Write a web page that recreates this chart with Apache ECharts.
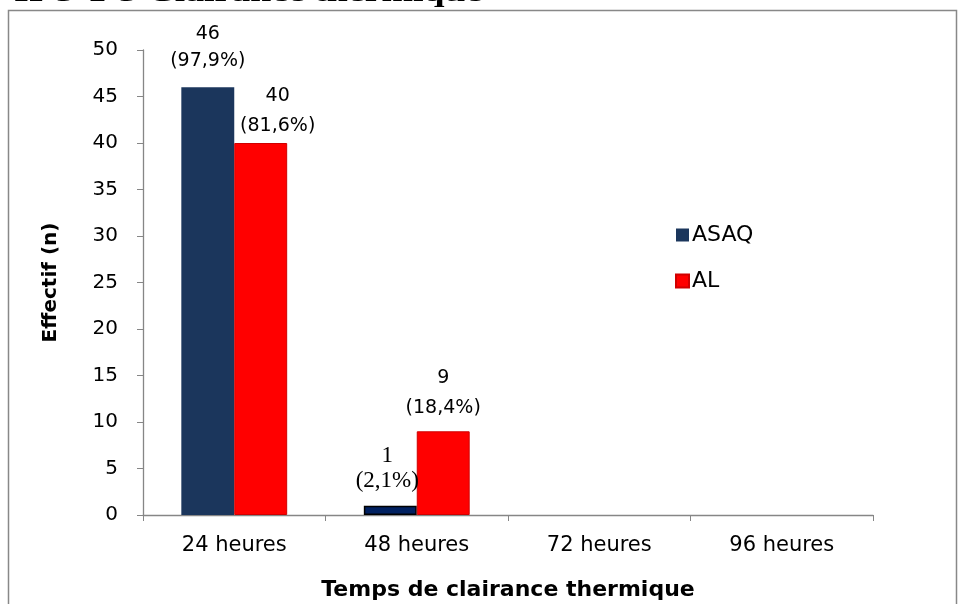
<!DOCTYPE html>
<html><head><meta charset="utf-8">
<script src="https://cdn.jsdelivr.net/npm/echarts@6/dist/echarts.min.js"></script>
<style>html,body{margin:0;padding:0;background:#fff}#c{width:958px;height:604px}</style>
</head><body><div id="c"></div>
<script>
const categories = ['24 heures', '48 heures', '72 heures', '96 heures'];
const asaqValues = [46, 1, 0, 0];
const alValues = [40, 9, 0, 0];
const asaqPct = ['97,9%', '2,1%', '', ''];
const alPct = ['81,6%', '18,4%', '', ''];
const yTicks = [0, 5, 10, 15, 20, 25, 30, 35, 40, 45, 50];

const SANS = 'DejaVu Sans';
const chart = echarts.init(document.getElementById('c'));

function lbl(v, p) { return v > 0 ? v + '\n(' + p + ')' : ''; }

const asaqData = asaqValues.map((v, i) => {
  const item = { value: v };
  if (v === 0) item.itemStyle = { borderWidth: 0, opacity: 0 };
  if (i === 0) item.label = { distance: 13, lineHeight: 27 };
  if (i === 1) {
    item.label = { distance: 12, lineHeight: 25, fontFamily: 'Liberation Serif', fontSize: 23, offset: [-3, 0] };
    item.itemStyle = { color: '#002060', borderColor: '#000', borderWidth: 1.5 };
  }
  return item;
});
const alData = alValues.map((v, i) => {
  const item = { value: v };
  if (v === 0) item.itemStyle = { borderWidth: 0, opacity: 0 };
  if (i === 0) item.label = { distance: 2, lineHeight: 30, offset: [17, 0] };
  if (i === 1) item.label = { distance: 8, lineHeight: 30 };
  return item;
});

chart.setOption({
  animation: false,
  textStyle: { fontFamily: SANS },
  graphic: [
    { type: 'rect', shape: { x: 8.5, y: 10.5, width: 948, height: 620 }, style: { fill: 'none', stroke: '#888', lineWidth: 1.5 }, z: -1 },
    { type: 'text', x: 14, y: 8, scaleX: 1.35, style: { text: 'II-3-1-3 Clairance thermique', font: 'bold 28px "Liberation Serif"', fill: '#000', verticalAlign: 'bottom' } }
  ],
  grid: { left: 143, right: 85, top: 50, bottom: 89, outerBoundsMode: 'none', containLabel: false },
  legend: {
    orient: 'vertical', left: 670, top: 219, itemGap: 24, itemWidth: 13, itemHeight: 13,
    icon: 'rect',
    textStyle: { fontSize: 22, fontFamily: SANS, color: '#000', padding: [0, 0, 0, -2] },
    data: ['ASAQ', 'AL']
  },
  xAxis: {
    type: 'category', data: categories,
    name: 'Temps de clairance thermique', nameLocation: 'middle', nameGap: 64,
    nameTextStyle: { fontSize: 22, fontWeight: 'bold', color: '#000', fontFamily: SANS },
    axisLine: { lineStyle: { color: '#868686', width: 1.3 } },
    axisTick: { show: true, length: 6, lineStyle: { color: '#868686' } },
    axisLabel: { fontSize: 21, color: '#000', margin: 20 }
  },
  yAxis: {
    type: 'value', min: 0, max: 50, interval: 5,
    name: 'Effectif (n)', nameLocation: 'middle', nameGap: 82, nameRotate: 90,
    nameTextStyle: { fontSize: 20, fontWeight: 'bold', color: '#000', fontFamily: SANS },
    axisLine: { show: true, lineStyle: { color: '#868686', width: 1.3 } },
    axisTick: { show: true, length: 6, lineStyle: { color: '#868686' } },
    splitLine: { show: false },
    axisLabel: { fontSize: 20, color: '#000', margin: 25, formatter: v => yTicks.includes(v) ? String(v) : '' }
  },
  series: [
    {
      name: 'ASAQ', type: 'bar', data: asaqData, barGap: '0%', barCategoryGap: '42%',
      itemStyle: { color: '#1B365C' },
      label: { show: true, position: 'top', color: '#000', fontSize: 19, fontFamily: SANS,
        formatter: p => lbl(p.value, asaqPct[p.dataIndex]) }
    },
    {
      name: 'AL', type: 'bar', data: alData,
      itemStyle: { color: '#FF0000', borderColor: '#D00000', borderWidth: 1 },
      label: { show: true, position: 'top', color: '#000', fontSize: 19, fontFamily: SANS,
        formatter: p => lbl(p.value, alPct[p.dataIndex]) }
    }
  ]
});
</script></body></html>
